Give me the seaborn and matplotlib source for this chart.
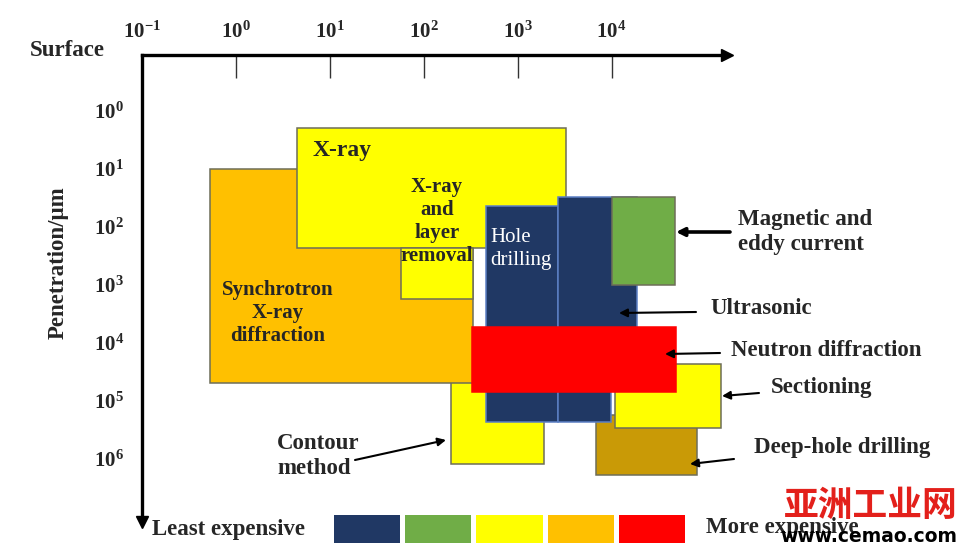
import numpy as np
import seaborn as sns
import matplotlib.pyplot as plt
from matplotlib.colors import ListedColormap

# 各手法の適用範囲 (10 の指数)  x: surface, y: penetration/um
methods = [
    "Deep-hole drilling",
    "Contour method",
    "Sectioning",
    "Synchrotron X-ray diffraction",
    "X-ray",
    "X-ray and layer removal",
    "Hole drilling",
    "Ultrasonic",
    "Ultrasonic",
    "Magnetic and eddy current",
    "Neutron diffraction",
]
surface_lo = [3.84, 2.29, 4.04, -0.28, 0.65, 1.76, 2.66, 3.43, 3.43, 4.00, 2.51]
surface_hi = [4.91, 3.28, 5.17, 2.52, 3.52, 2.52, 3.43, 4.27, 3.99, 4.68, 4.69]
depth_lo = [5.24, 4.47, 4.37, 1.01, 0.31, 2.37, 1.65, 1.50, 3.95, 1.50, 3.73]
depth_hi = [6.27, 6.09, 5.47, 4.69, 2.37, 3.25, 5.36, 4.13, 5.36, 3.01, 4.85]
cost_group = ["brown", "yellow", "yellow", "orange", "yellow", "yellow",
              "navy", "navy", "navy", "green", "red"]

x_exp = [-1, 0, 1, 2, 3, 4]
y_exp = [0, 1, 2, 3, 4, 5, 6]

cost_order = ["navy", "green", "yellow", "orange", "red"]
palette = {
    "navy": "#203864",
    "green": "#70AD47",
    "yellow": "#FFFF00",
    "orange": "#FFC000",
    "red": "#FF0000",
    "brown": "#C99A06",
}
edge = {"navy": "#5b7fc4", "red": "#FF0000"}

sns.set_theme(style="white")
plt.rcParams["font.family"] = ["Liberation Serif", "DejaVu Serif"]
plt.rcParams["mathtext.fontset"] = "custom"
plt.rcParams["mathtext.rm"] = "Liberation Serif:bold"
plt.rcParams["mathtext.bf"] = "Liberation Serif:bold"
plt.rcParams["mathtext.it"] = "Liberation Serif:bold:italic"
plt.rcParams["mathtext.default"] = "rm"

W, H = 966, 554
fig = plt.figure(figsize=(W / 100, H / 100), dpi=100)


def fxy(px, py):
    # ピクセル位置 -> figure fraction
    return (px / W, 1 - py / H)


ax = fig.add_axes([142 / W, 1 - 522 / H, (727 - 142) / W, (522 - 55) / H])
ax.set_xscale("log")
ax.set_yscale("log")
ax.set_xlim(10 ** -1, 10 ** 5.23)
ax.set_ylim(10 ** 7.08, 10 ** -0.95)

for i in range(len(methods)):
    x0, x1 = 10 ** surface_lo[i], 10 ** surface_hi[i]
    y0, y1 = 10 ** depth_lo[i], 10 ** depth_hi[i]
    grp = cost_group[i]
    ax.bar(x=x0, height=y1 - y0, width=x1 - x0, bottom=y0, align="edge",
           color=palette[grp], edgecolor=edge.get(grp, "#6e6e58"),
           linewidth=1.1, zorder=2 + i)

# 軸
ax.xaxis.tick_top()
ax.set_xticks([10.0 ** e for e in x_exp])
ax.set_xticklabels([f"$10^{{{e}}}$" for e in x_exp])
ax.set_yticks([10.0 ** e for e in y_exp])
ax.set_yticklabels([f"$10^{{{e}}}$" for e in y_exp])
ax.minorticks_off()
ax.tick_params(axis="x", direction="in", length=16.5, width=1.0, color="#333333",
               pad=9, labelsize=15)
ax.tick_params(axis="y", direction="in", length=18.5, width=1.0, color="#333333",
               pad=13, labelsize=15)
for s in ["right", "bottom"]:
    ax.spines[s].set_visible(False)
for s in ["top", "left"]:
    ax.spines[s].set_linewidth(2.4)
    ax.spines[s].set_color("black")
ax.plot(1, 1, ">", color="black", ms=8, transform=ax.transAxes, clip_on=False)
ax.plot(0, 0, "v", color="black", ms=8, transform=ax.transAxes, clip_on=False)
ax.grid(False)

fig.text(*fxy(30, 50), "Surface", fontsize=16.5, fontweight="bold", ha="left", va="center")
fig.text(*fxy(58, 263), "Penetration/μm", fontsize=16.5, fontweight="bold",
         rotation=90, ha="center", va="center")

# 箱の中のラベル
fig.text(*fxy(313, 150), "X-ray", fontsize=17, fontweight="bold", ha="left", va="center", zorder=20)
fig.text(*fxy(437, 222), "X-ray\nand\nlayer\nremoval", fontsize=15, fontweight="bold",
         ha="center", va="center", linespacing=1.2, zorder=20)
fig.text(*fxy(278, 313), "Synchrotron\nX-ray\ndiffraction", fontsize=15, fontweight="bold",
         ha="center", va="center", linespacing=1.2, zorder=20)
fig.text(*fxy(490, 249), "Hole\ndrilling", fontsize=15, color="white",
         ha="left", va="center", linespacing=1.3, zorder=20)

# 外側ラベルと矢印
labels = [
    ("Magnetic and\neddy current", 738, 232),
    ("Ultrasonic", 710, 308),
    ("Neutron diffraction", 731, 351),
    ("Sectioning", 771, 388),
    ("Deep-hole drilling", 754, 447),
    ("Contour\nmethod", 277, 456),
]
for txt, px, py in labels:
    fig.text(*fxy(px, py), txt, fontsize=16.5, fontweight="bold", ha="left", va="center",
             linespacing=1.2)

arrows = [
    ((730, 232), (676, 232), 2.6),
    ((696, 312), (619, 313), 1.5),
    ((720, 353), (665, 354), 1.5),
    ((759, 393), (722, 396), 1.5),
    ((734, 459), (690, 464), 1.5),
    ((355, 460), (446, 440), 1.5),
]
for tail, head, lw in arrows:
    ax.annotate("", xy=fxy(*head), xytext=fxy(*tail), xycoords="figure fraction",
                textcoords="figure fraction", annotation_clip=False, zorder=30,
                arrowprops=dict(arrowstyle="-|>", color="black", lw=lw,
                                shrinkA=0, shrinkB=0, mutation_scale=12))

# コストの凡例
cax = fig.add_axes([331 / W, 1 - 545 / H, (687 - 331) / W, (545 - 512) / H])
sns.heatmap(np.arange(len(cost_order)).reshape(1, -1), ax=cax,
            cmap=ListedColormap([palette[c] for c in cost_order]),
            cbar=False, linewidths=2.5, linecolor="white",
            xticklabels=False, yticklabels=False)
fig.text(*fxy(152, 530), "Least expensive", fontsize=16.5, fontweight="bold", ha="left", va="center")
fig.text(*fxy(706, 527), "More expensive", fontsize=16.5, fontweight="bold", ha="left", va="center")

# 透かし
fig.text(*fxy(871, 505), "亚洲工业网", fontsize=25, fontweight="bold", color="#E3201B",
         family=["Noto Sans CJK SC", "DejaVu Sans"], ha="center", va="center")
fig.text(*fxy(869, 536), "www.cemao.com", fontsize=13.5, fontweight="bold", color="black",
         family=["DejaVu Sans"], ha="center", va="center")

fig.savefig("out.png", dpi=100)
